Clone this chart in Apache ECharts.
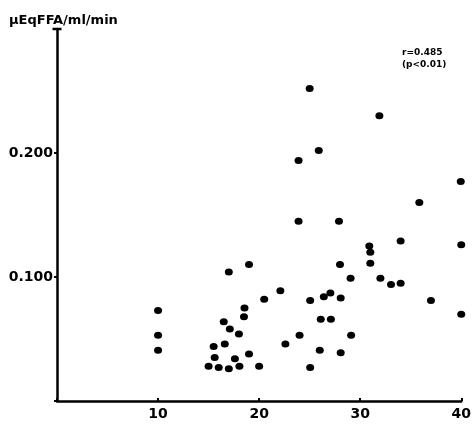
<!DOCTYPE html>
<html>
<head>
<meta charset="utf-8">
<script src="https://cdn.jsdelivr.net/npm/echarts@6/dist/echarts.min.js"></script>
<style>
html,body{margin:0;padding:0;background:#fff;}
#chart{width:474px;height:424px;}
</style>
</head>
<body>
<div id="chart"></div>
<script>
// Data (x, y in µEq FFA/ml/min)
const xValues = [10, 10, 10, 15.0, 15.5, 15.6, 16.0, 16.5, 16.6, 17.0, 17.0, 17.1, 17.6, 18.0, 18.05, 18.5, 18.55, 19.0, 19.0, 20.0,
  20.5, 22.1, 22.6, 23.9, 23.9, 24.0, 25.0, 25.05, 25.05, 25.9, 26.0, 26.1, 26.4, 27.05, 27.1, 27.9, 28.0, 28.07, 28.07,
  29.05, 29.1, 30.9, 31.0, 31.0, 31.9, 32.0, 33.05, 34.0, 34.0, 35.85, 37.0, 39.95, 40.0, 40.0];
const yValues = [0.073, 0.053, 0.041, 0.028, 0.044, 0.035, 0.027, 0.064, 0.046, 0.026, 0.104, 0.058, 0.034, 0.054, 0.028, 0.068, 0.075, 0.038, 0.110, 0.028,
  0.082, 0.089, 0.046, 0.194, 0.145, 0.053, 0.252, 0.081, 0.027, 0.202, 0.041, 0.066, 0.084, 0.087, 0.066, 0.145, 0.110, 0.083, 0.039,
  0.099, 0.053, 0.125, 0.120, 0.111, 0.230, 0.099, 0.094, 0.095, 0.129, 0.160, 0.081, 0.177, 0.126, 0.070];
const xTickLabels = ['10', '20', '30', '40'];
const yTickLabels = ['0.100', '0.200'];
const yAxisTitle = 'μEqFFA/ml/min';
const statLines = ['r=0.485', '(p<0.01)'];

const points = xValues.map((x, i) => [x, yValues[i]]);
const font = 'DejaVu Sans';

const chart = echarts.init(document.getElementById('chart'), null, {renderer: 'canvas'});
chart.setOption({
  animation: false,
  backgroundColor: '#fff',
  title: [
    {text: yAxisTitle, left: 4, top: 9,
     textStyle: {fontFamily: font, fontWeight: 'bold', fontSize: 13, color: '#000'}},
    {text: statLines.join('\n'), left: 397, top: 42,
     textStyle: {fontFamily: font, fontWeight: 'bold', fontSize: 9, lineHeight: 12, color: '#000'}}
  ],
  grid: {left: 57, right: 11, top: 29, bottom: 23, containLabel: false},
  xAxis: {
    type: 'value', min: 0, max: 40, interval: 10,
    splitLine: {show: false},
    axisLine: {lineStyle: {color: '#000', width: 2.5}},
    axisTick: {show: true, inside: true, length: 3, lineStyle: {color: '#000', width: 2}},
    axisLabel: {
      margin: 6, color: '#000', fontFamily: font, fontWeight: 'bold', fontSize: 14,
      formatter: v => { const s = String(v); return xTickLabels.includes(s) ? s : ''; }
    }
  },
  yAxis: {
    type: 'value', min: 0, max: 0.3, interval: 0.1,
    splitLine: {show: false},
    axisLine: {lineStyle: {color: '#000', width: 2.5}, symbol: ['none', 'rect'], symbolSize: [9, 2.5], symbolOffset: [0, 0]},
    axisTick: {show: true, length: 3, lineStyle: {color: '#000', width: 2}},
    axisLabel: {
      margin: 4, color: '#000', fontFamily: font, fontWeight: 'bold', fontSize: 14,
      formatter: v => { const s = v.toFixed(3); return yTickLabels.includes(s) ? s : ''; }
    }
  },
  series: [{
    type: 'scatter',
    data: points,
    symbol: 'circle',
    symbolSize: [8, 7],
    itemStyle: {color: '#000', opacity: 1}
  }]
});
</script>
</body>
</html>
